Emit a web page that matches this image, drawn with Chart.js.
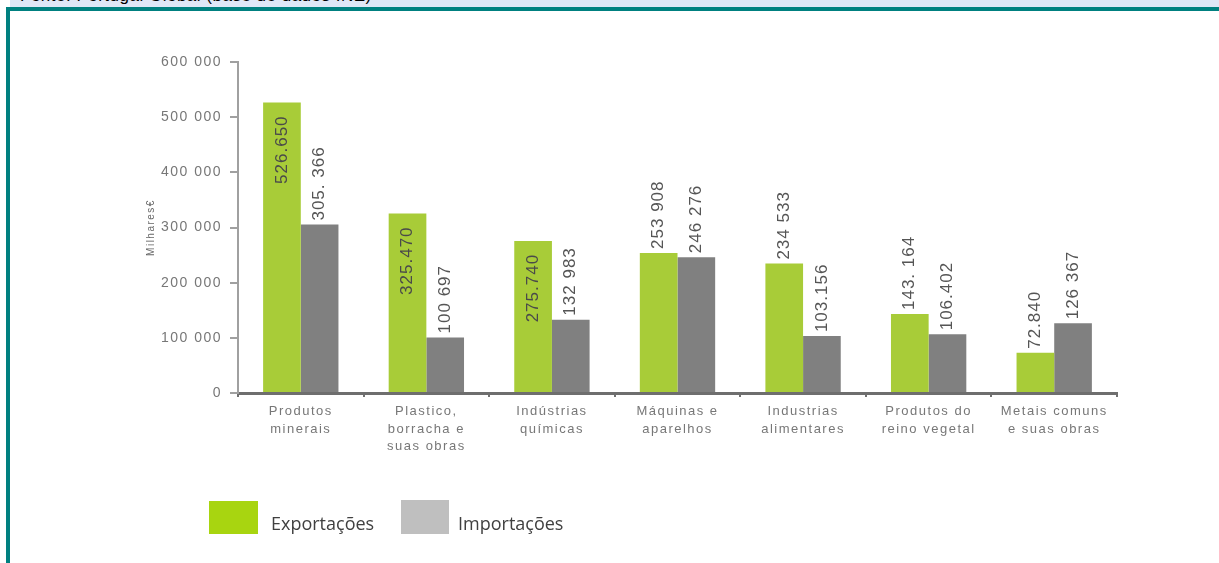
<!DOCTYPE html>
<html>
<head>
<meta charset="utf-8">
<script src="https://cdn.jsdelivr.net/npm/chart.js@4.4.1/dist/chart.umd.min.js"></script>
<style>
  html,body{margin:0;padding:0;background:#fff;}
  #wrap{position:relative;width:1219px;height:563px;overflow:hidden;background:#fff;}
  #topbar{position:absolute;left:10px;top:0;width:1209px;height:7px;background:#dfe7f7;overflow:hidden;}
  #topbar span{position:absolute;left:10px;top:-14px;font:17px "Liberation Sans",Arial,sans-serif;color:#000;white-space:nowrap;letter-spacing:0.5px;}
  #hline{position:absolute;left:6px;top:7px;width:1213px;height:4px;background:#008080;}
  #vline{position:absolute;left:6px;top:7px;width:4px;height:556px;background:#008080;}
  canvas{position:absolute;left:0;top:0;}
  .lg{position:absolute;}
  .lgt{position:absolute;font:18px "Open Sans","Liberation Sans",sans-serif;color:#404040;white-space:nowrap;}
</style>
</head>
<body>
<div id="wrap">
  <canvas id="c" width="1219" height="563"></canvas>
  <div id="topbar"><span>Fonte: Portugal Global (base de dados INE)</span></div>
  <div id="hline"></div>
  <div id="vline"></div>
  <div class="lg" style="left:209px;top:501px;width:49px;height:33px;background:#a8d510;"></div>
  <div class="lgt" style="left:271px;top:511px;">Exportações</div>
  <div class="lg" style="left:401px;top:500px;width:48px;height:34px;background:#bfbfbf;"></div>
  <div class="lgt" style="left:458px;top:511px;">Importações</div>
</div>
<script>
const categories = [
  ["Produtos","minerais"],
  ["Plastico,","borracha e","suas obras"],
  ["Indústrias","químicas"],
  ["Máquinas e","aparelhos"],
  ["Industrias","alimentares"],
  ["Produtos do","reino vegetal"],
  ["Metais comuns","e suas obras"]
];
const exportacoes = [526650, 325470, 275740, 253908, 234533, 143164, 72840];
const importacoes = [305366, 100697, 132983, 246276, 103156, 106402, 126367];
const exportLabels = ["526.650","325.470","275.740","253 908","234 533","143. 164","72.840"];
const importLabels = ["305. 366","100 697","132 983","246 276","103.156","106.402","126 367"];
const exportInside = [true, true, true, false, false, false, false];
const yTicks = [0,100000,200000,300000,400000,500000,600000];

const spacingPlugin = {
  id:'spacing',
  beforeDraw(chart){ chart.ctx.letterSpacing = '1.5px'; }
};

const labelPlugin = {
  id:'barLabels',
  afterDatasetsDraw(chart){
    const ctx = chart.ctx;
    chart.data.datasets.forEach((ds, di) => {
      const meta = chart.getDatasetMeta(di);
      meta.data.forEach((el, i) => {
        const txt = ds.labelTexts[i];
        const inside = ds.labelInside ? ds.labelInside[i] : false;
        ctx.save();
        ctx.letterSpacing = '1px';
        ctx.font = '17px "Liberation Sans", Arial, sans-serif';
        ctx.fillStyle = inside ? '#4a4a4a' : '#555';
        ctx.textBaseline = 'middle';
        ctx.translate(el.x, el.y);
        ctx.rotate(-Math.PI/2);
        if (inside) { ctx.textAlign = 'right'; ctx.fillText(txt, -13, 0); }
        else { ctx.textAlign = 'left'; ctx.fillText(txt, 4, 0); }
        ctx.restore();
      });
    });
  }
};

new Chart(document.getElementById('c'), {
  type:'bar',
  data:{
    labels: categories,
    datasets:[
      {label:'Exportações', data: exportacoes, backgroundColor:'#a8cc38', labelTexts: exportLabels, labelInside: exportInside,
       categoryPercentage:0.6, barPercentage:1.0},
      {label:'Importações', data: importacoes, backgroundColor:'#808080', labelTexts: importLabels,
       categoryPercentage:0.6, barPercentage:1.0}
    ]
  },
  options:{
    responsive:false,
    animation:false,
    devicePixelRatio:1,
    layout:{padding:{left:143, top:62, right:102, bottom:0}},
    plugins:{legend:{display:false}, tooltip:{enabled:false}},
    scales:{
      x:{
        offset:true,
        grid:{offset:true, drawOnChartArea:false, tickLength:4, color:'#707070', lineWidth:2},
        border:{display:true, color:'#6e6e6e', width:3},
        ticks:{color:'#777', font:{family:'"Liberation Sans", Arial, sans-serif', size:13, lineHeight:1.35}, padding:6, maxRotation:0, autoSkip:false},
        afterFit(s){ s.height = 170; }
      },
      y:{
        min:0, max:600000,
        afterBuildTicks(s){ s.ticks = yTicks.map(v => ({value:v})); },
        grid:{drawOnChartArea:false, tickLength:8, color:'#a0a0a0', lineWidth:2},
        border:{display:true, color:'#a0a0a0', width:2},
        ticks:{color:'#777', font:{family:'"Liberation Sans", Arial, sans-serif', size:14}, padding:8,
          callback(v){ return v === 0 ? '0' : String(v).replace(/\B(?=(\d{3})+(?!\d))/g,' '); }},
        title:{display:true, text:'Milhares€', color:'#666', font:{family:'"Liberation Sans", Arial, sans-serif', size:10}, padding:{top:2,bottom:0}},
        afterFit(s){ s.width = 95; }
      }
    }
  },
  plugins:[spacingPlugin, labelPlugin]
});
</script>
</body>
</html>
